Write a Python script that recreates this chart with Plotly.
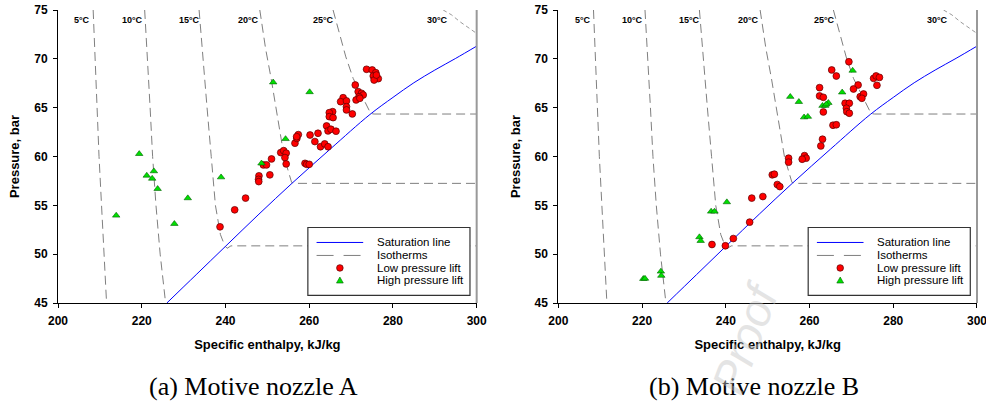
import plotly.graph_objects as go

# ---------------- data ----------------
sat_h = [226, 233, 240, 248, 256, 265, 274.5, 280, 285, 290, 295, 300]
sat_p = [45, 47.9, 50.8, 54.1, 57.3, 60.75, 64.3, 66.05, 67.55, 68.85, 70.05, 71.3]

iso5_h = [208.4, 209.1, 209.8, 210.7, 211.6]
iso5_p = [75, 67.5, 60, 52.5, 45]
iso10_h = [220.7, 221.4, 222.0, 222.6, 223.4, 224.4, 225.7]
iso10_p = [75, 70, 65, 60, 55, 50, 45]
iso15_h = [233.7, 234.6, 235.6, 236.6, 237.6, 238.8, 239.85, 240.4, 241.3, 300]
iso15_p = [75, 70, 65, 60, 55, 52, 50.85, 50.6, 50.85, 50.85]
iso20_h = [248.2, 249.6, 250.9, 252.0, 253.0, 254.0, 255.0, 255.8, 256.5, 300]
iso20_p = [75, 71, 68, 65, 62.5, 60, 58.5, 57.35, 57.25, 57.25]
iso25_h = [265.7, 266.95, 268.2, 268.75, 270.5, 271.9, 273.3, 274.7, 275.5, 300]
iso25_p = [75, 73, 71, 70.2, 68, 66.8, 65.6, 64.4, 64.35, 64.35]
iso30_h = [292, 294, 296, 298, 300]
iso30_p = [75, 74.5, 73.8, 73.2, 72.6]

iso_labels = ["5°C", "10°C", "15°C", "20°C", "25°C", "30°C"]
iso_label_h = [205.8, 217.8, 231.3, 245.4, 263.5, 290.6]
iso_label_p = [73.97] * 6

# (a) Motive nozzle A
a_low_h = [273.7, 275.05, 275.9, 275.3, 276.5, 275.5, 276.05, 271.0, 271.7, 272.5, 272.9, 271.9,
           271.2, 272.1, 268.1, 267.5, 268.9, 268.9, 268.9, 270.3, 265.6, 264.8, 264.8, 265.7,
           264.15, 264.5, 265.2, 266.4, 260.2, 262.1, 261.35, 262.7, 263.7, 264.5, 256.6, 257.05,
           257.4, 257.0, 253.2, 253.9, 254.5, 254.2, 254.5, 251.0, 249.05, 249.8, 250.6, 248.0,
           247.9, 247.95, 259.0, 259.4, 260.0, 244.8, 242.2, 238.7]
a_low_p = [68.93, 68.86, 68.58, 68.24, 67.97, 67.83, 68.34, 67.32, 66.64, 66.47, 66.30, 66.12,
           65.79, 65.96, 66.02, 65.61, 65.69, 65.10, 64.77, 64.36, 64.59, 64.49, 64.08, 63.98,
           63.13, 62.62, 62.79, 62.59, 62.2, 62.38, 61.53, 61.0, 61.29, 61.0, 61.36, 61.85,
           62.24, 62.03, 60.40, 60.6, 60.34, 59.89, 59.24, 59.75, 59.14, 59.14, 58.12, 58.02,
           57.66, 57.43, 59.3, 59.2, 59.2, 55.74, 54.54, 52.8]
a_high_h = [251.4, 260.1, 254.35, 248.6, 238.95, 219.4, 222.9, 221.2, 222.5, 223.8, 231.0, 213.9, 227.8]
a_high_p = [67.6, 66.6, 61.8, 59.3, 57.88, 60.27, 58.5, 58.05, 57.74, 56.69, 55.74, 53.96, 53.11]

# (b) Motive nozzle B
b_low_h = [269.4, 265.3, 266.4, 275.3, 275.9, 276.7, 276.1, 271.6, 270.5, 262.4, 262.4, 263.3,
           263.3, 272.1, 272.9, 272.5, 268.5, 269.5, 268.8, 268.9, 269.5, 265.6, 266.4, 263.1,
           262.7, 255.0, 255.0, 258.8, 259.2, 258.25, 251.1, 251.6, 252.3, 252.9, 246.2, 248.85,
           245.7, 241.8, 239.9, 236.7]
b_low_p = [69.7, 68.86, 68.24, 68.0, 68.25, 68.1, 67.29, 67.32, 66.91, 67.05, 66.2, 66.06,
           64.56, 66.12, 66.4, 65.96, 65.45, 65.45, 64.94, 64.59, 64.43, 63.2, 63.25, 61.77,
           61.08, 59.83, 59.42, 60.09, 59.83, 59.72, 58.12, 58.19, 57.13, 56.92, 55.74, 55.9,
           53.28, 51.6, 50.86, 50.99]
b_high_h = [270.3, 255.4, 257.45, 267.8, 263.1, 263.75, 264.5, 264.0, 258.7, 259.6, 240.25,
            236.5, 237.3, 233.7, 234.0, 224.5, 224.6, 220.3, 220.7]
b_high_p = [68.8, 66.12, 65.6, 66.57, 65.2, 65.2, 65.5, 65.35, 64.02, 64.08, 55.33,
            54.37, 54.37, 51.75, 51.37, 48.23, 47.8, 47.48, 47.5]

legend_names = ["Saturation line", "Isotherms", "Low pressure lift", "High pressure lift"]
captions = ["(a) Motive nozzle A", "(b) Motive nozzle B"]
x_title = "Specific enthalpy, kJ/kg"
y_title = "Pressure, bar"

# ---------------- styling ----------------
W, H = 986, 405
ML, MR, MT, MB = 58.3, 9.3, 10, 101.7
PW = W - ML - MR
PH = H - MT - MB
left_dom = [0, (476.7 - ML) / PW]
right_dom = [(558.3 - ML) / PW, 1]

SANS = "Liberation Sans, Arial, sans-serif"
GRAY = "#7f7f7f"
RED = "#ff0000"
GREEN = "#00e000"

fig = go.Figure()

isotherms = [(iso5_h, iso5_p), (iso10_h, iso10_p), (iso15_h, iso15_p),
             (iso20_h, iso20_p), (iso25_h, iso25_p)]

panels = [("x", "y", a_low_h, a_low_p, a_high_h, a_high_p),
          ("x2", "y2", b_low_h, b_low_p, b_high_h, b_high_p)]

for xa, ya, lh, lp, hh, hp in panels:
    for h, p in isotherms:
        fig.add_trace(go.Scatter(x=h, y=p, mode="lines", xaxis=xa, yaxis=ya,
                                 line=dict(color=GRAY, width=1, dash="9px,5px"),
                                 showlegend=False, hoverinfo="skip"))
    fig.add_trace(go.Scatter(x=iso30_h, y=iso30_p, mode="lines", xaxis=xa, yaxis=ya,
                             line=dict(color=GRAY, width=0.8, dash="4px,3px"),
                             showlegend=False, hoverinfo="skip"))
    fig.add_trace(go.Scatter(x=sat_h, y=sat_p, mode="lines", xaxis=xa, yaxis=ya,
                             line=dict(color="#0000ff", width=1, shape="spline"),
                             name=legend_names[0], showlegend=False))
    fig.add_trace(go.Scatter(x=lh, y=lp, mode="markers", xaxis=xa, yaxis=ya,
                             marker=dict(symbol="circle", size=6.8, color=RED,
                                         line=dict(color="#5a0000", width=0.7)),
                             name=legend_names[2], showlegend=False))
    fig.add_trace(go.Scatter(x=hh, y=hp, mode="markers", xaxis=xa, yaxis=ya,
                             marker=dict(symbol="triangle-up", size=6.5, color=GREEN,
                                         line=dict(color="#006000", width=0.6)),
                             name=legend_names[3], showlegend=False))

axis_common = dict(showgrid=False, zeroline=False, showline=True, linecolor="black",
                   linewidth=1, ticks="outside", ticklen=4, tickcolor="black", automargin=False,
                   ticklabeloverflow="allow",
                   tickfont=dict(family=SANS, size=12, color="black", weight="bold"))

xt = dict(text=x_title, font=dict(family=SANS, size=13, color="black", weight="bold"), standoff=12)
yt = dict(text=y_title, font=dict(family=SANS, size=13, color="black", weight="bold"), standoff=11)

fig.update_layout(
    width=W, height=H, margin=dict(l=ML, r=MR, t=MT, b=MB, autoexpand=False),
    paper_bgcolor="white", plot_bgcolor="white", showlegend=False,
    xaxis=dict(domain=left_dom, range=[200, 300], dtick=20, anchor="y", title=xt,
               ticklabelstandoff=3, **axis_common),
    yaxis=dict(domain=[0, 1], range=[45, 75], dtick=5, anchor="x", title=yt,
               ticklabelstandoff=3, **axis_common),
    xaxis2=dict(domain=right_dom, range=[200, 300], dtick=20, anchor="y2", title=xt,
                ticklabelstandoff=3, **axis_common),
    yaxis2=dict(domain=[0, 1], range=[45, 75], dtick=5, anchor="x2", title=yt,
                ticklabelstandoff=3, **axis_common),
)

shapes = []
annotations = []


def px(x):
    return (x - ML) / PW


def py(y):
    return (H - MB - y) / PH


for i, (xa, ya) in enumerate([("x", "y"), ("x2", "y2")]):
    # right frame line (gray)
    shapes.append(dict(type="line", xref=f"{xa} domain", yref=f"{ya} domain",
                       x0=1, x1=1, y0=0, y1=1, line=dict(color="#999999", width=2)))
    # isotherm labels
    for t, h, p in zip(iso_labels, iso_label_h, iso_label_p):
        annotations.append(dict(text=t, x=h, y=p, xref=xa, yref=ya, showarrow=False,
                                font=dict(family=SANS, size=9, color="black", weight="bold")))
    # manual legend box (pixel layout)
    off = 0 if i == 0 else 500
    bx0, bx1, by0, by1 = 308 + off, 470 + off, 227.7, 295.7
    shapes.append(dict(type="rect", xref="paper", yref="paper",
                       x0=px(bx0), x1=px(bx1), y0=py(by1), y1=py(by0),
                       line=dict(color="#333333", width=1.2), fillcolor="white", layer="above"))
    ys = [242.7, 255.7, 268.2, 280.7]
    shapes.append(dict(type="line", xref="paper", yref="paper", x0=px(316.7 + off), x1=px(363.3 + off),
                       y0=py(ys[0]), y1=py(ys[0]), line=dict(color="#0000ff", width=1), layer="above"))
    shapes.append(dict(type="line", xref="paper", yref="paper", x0=px(316.7 + off), x1=px(363.3 + off),
                       y0=py(ys[1]), y1=py(ys[1]), line=dict(color=GRAY, width=1, dash="17px,10px"),
                       layer="above"))
    cx = 340 + off
    r = 3.3
    shapes.append(dict(type="circle", xref="paper", yref="paper", x0=px(cx - r), x1=px(cx + r),
                       y0=py(ys[2] + r), y1=py(ys[2] - r), fillcolor=RED,
                       line=dict(color="#5a0000", width=0.7), layer="above"))
    ty = ys[3]
    path = (f"M {px(cx - 3.4)} {py(ty + 2.6)} L {px(cx + 3.4)} {py(ty + 2.6)} "
            f"L {px(cx)} {py(ty - 3.4)} Z")
    shapes.append(dict(type="path", xref="paper", yref="paper", path=path, fillcolor=GREEN,
                       line=dict(color="#006000", width=0.6), layer="above"))
    for name, yy in zip(legend_names, [242.7, 255.7, 268.3, 280.7]):
        annotations.append(dict(text=name, x=px(375 + off), y=py(yy), xref="paper", yref="paper",
                                xanchor="left", yanchor="middle", showarrow=False,
                                font=dict(family=SANS, size=11.5, color="black")))
    # caption
    annotations.append(dict(text=captions[i], x=px(254 + off), y=py(387), xref="paper", yref="paper",
                            xanchor="center", yanchor="middle", showarrow=False,
                            font=dict(family="Liberation Serif, Times New Roman, serif", size=26,
                                      color="black")))

# faint watermark (kept fully inside the picture)
annotations.append(dict(text="<i>Proof</i>", x=px(745), y=py(338), xref="paper", yref="paper",
                        xanchor="center", yanchor="middle",
                        showarrow=False, textangle=-70, opacity=0.45,
                        font=dict(family="Liberation Sans, Arial", size=46, color="#c4c4c4")))

fig.update_layout(shapes=shapes, annotations=annotations)
fig.write_html("out.html")
